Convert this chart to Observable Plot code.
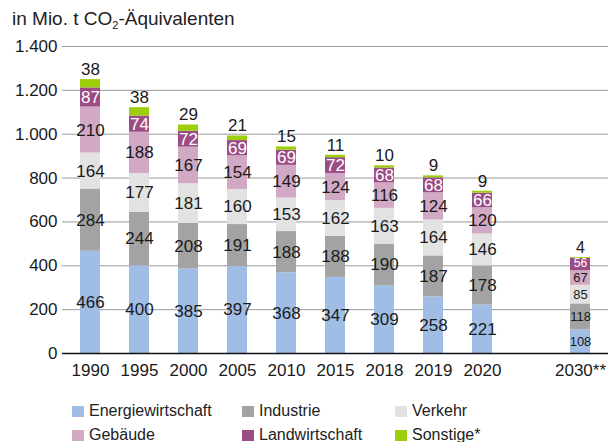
<!DOCTYPE html>
<html>
<head>
<meta charset="utf-8">
<script src="https://cdn.jsdelivr.net/npm/d3@7"></script>
<script src="https://cdn.jsdelivr.net/npm/@observablehq/plot@0.6"></script>
<style>
  body { margin: 0; background: #fff; font-family: "Liberation Sans", Arial, sans-serif; color: #222; }
  #wrap { width: 616px; }
  #title { height: 30px; box-sizing: border-box; padding: 9px 0 0 12px; font-size: 19px; line-height: 20px; white-space: nowrap; }
  #title sub { font-size: 11px; vertical-align: -4px; line-height: 0; }
  #legend { position: relative; height: 57px; font-size: 16px; }
  .item { position: absolute; display: flex; align-items: center; height: 24px; white-space: nowrap; }
  .sw { width: 12px; height: 11px; margin-right: 5px; }
  svg { display: block; }
</style>
</head>
<body>
<div id="wrap">
  <div id="title">in Mio. t CO<sub>2</sub>-Äquivalenten</div>
  <div id="chart"></div>
  <div id="legend"></div>
</div>
<script>
const years = ["1990","1995","2000","2005","2010","2015","2018","2019","2020","2030**"];
const sectors = ["Energiewirtschaft","Industrie","Verkehr","Gebäude","Landwirtschaft","Sonstige*"];
const colors = ["#a0bde6","#a3a3a3","#e2e2e2","#d1a9c5","#9c4c85","#9dce0a"];
const energiewirtschaft = [466,400,385,397,368,347,309,258,221,108];
const industrie        = [284,244,208,191,188,188,190,187,178,118];
const verkehr          = [164,177,181,160,153,162,163,164,146,85];
const gebaeude         = [210,188,167,154,149,124,116,124,120,67];
const landwirtschaft   = [87,74,72,69,69,72,68,68,66,56];
const sonstige         = [38,38,29,21,15,11,10,9,9,4];
const yTicks = [0,200,400,600,800,1000,1200,1400];

const series = [energiewirtschaft, industrie, verkehr, gebaeude, landwirtschaft, sonstige];
const data = [];
years.forEach((year, i) => {
  sectors.forEach((sector, j) => {
    data.push({year, sector, value: series[j][i]});
  });
});
const xDomain = [...years.slice(0, 9), " ", years[9]];
const last = years[9];
const fmt = d => d3.format(",")(d).replace(/,/g, ".");

const labelStyle = {x: "year", y: "value", z: "sector"};

const chart = Plot.plot({
  width: 616,
  height: 355,
  marginTop: 16,
  marginBottom: 32,
  marginLeft: 62,
  marginRight: 8,
  style: {fontFamily: "Liberation Sans, Arial, sans-serif", fontSize: "17px", color: "#1a1a1a", background: "#fff"},
  x: {type: "band", domain: xDomain, paddingInner: 0.6, paddingOuter: 0.32, tickSize: 0, tickPadding: 10, label: null},
  y: {domain: [0, 1400], ticks: yTicks, tickFormat: fmt, tickSize: 0, tickPadding: 5, label: null},
  color: {domain: sectors, range: colors},
  marks: [
    Plot.ruleY(yTicks.slice(1), {stroke: "#9a9a9a", strokeWidth: 1}),
    Plot.barY(data, {x: "year", y: "value", fill: "sector"}),
    Plot.ruleY([0], {stroke: "#111", strokeWidth: 1.6}),
    Plot.text(data, Plot.stackY({...labelStyle,
      text: d => (d.year !== last && d.sector !== "Landwirtschaft" && d.sector !== "Sonstige*") ? String(d.value) : null,
      fill: "#1a1a1a", fontSize: 17})),
    Plot.text(data, Plot.stackY({...labelStyle,
      text: d => (d.year !== last && d.sector === "Landwirtschaft") ? String(d.value) : null,
      fill: "white", fontSize: 17})),
    Plot.text(data, Plot.stackY({...labelStyle,
      text: d => (d.year === last && d.sector !== "Sonstige*" && d.sector !== "Landwirtschaft") ? String(d.value) : null,
      fill: "#1a1a1a", fontSize: 13})),
    Plot.text(data, Plot.stackY({...labelStyle,
      text: d => (d.year === last && d.sector === "Landwirtschaft") ? String(d.value) : null,
      fill: "white", fontSize: 12, dy: -1})),
    Plot.text(data, Plot.stackY2({...labelStyle,
      text: d => (d.sector === "Sonstige*" && d.year !== last) ? String(d.value) : null,
      fill: "#1a1a1a", fontSize: 17, dy: -10})),
    Plot.text(data, Plot.stackY2({...labelStyle,
      text: d => (d.sector === "Sonstige*" && d.year === last) ? String(d.value) : null,
      fill: "#1a1a1a", fontSize: 16, dy: -10}))
  ]
});
document.getElementById("chart").appendChild(chart);

const legend = document.getElementById("legend");
const colX = [72, 242, 395];
sectors.forEach((s, i) => {
  const item = document.createElement("div");
  item.className = "item";
  item.style.left = colX[i % 3] + "px";
  item.style.top = (14 + Math.floor(i / 3) * 24) + "px";
  const sw = document.createElement("span");
  sw.className = "sw";
  sw.style.background = colors[i];
  const tx = document.createElement("span");
  tx.textContent = s;
  item.appendChild(sw);
  item.appendChild(tx);
  legend.appendChild(item);
});
</script>
</body>
</html>
